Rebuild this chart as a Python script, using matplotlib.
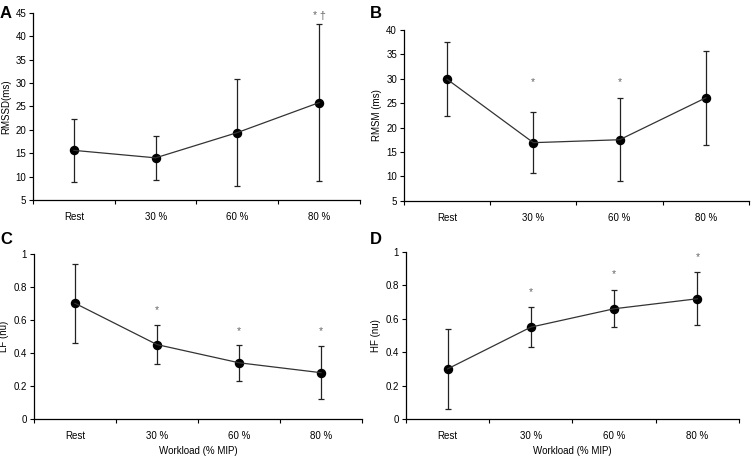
import matplotlib
matplotlib.use("Agg")
import matplotlib.pyplot as plt
import numpy as np

plt.rcParams['font.family'] = ['Liberation Sans', 'DejaVu Sans']

# categories
workload = ["Rest", "30 %", "60 %", "80 %"]

# panel A - RMSSD
rmssd_mean = [15.6, 14.0, 19.4, 25.8]
rmssd_sd = [6.7, 4.7, 11.5, 16.7]
# panel B - RMSM
rmsm_mean = [29.9, 16.9, 17.5, 26.1]
rmsm_sd = [7.6, 6.3, 8.5, 9.6]
# panel C - LF
lf_mean = [0.70, 0.45, 0.34, 0.28]
lf_sd = [0.24, 0.12, 0.11, 0.16]
# panel D - HF
hf_mean = [0.30, 0.55, 0.66, 0.72]
hf_sd = [0.24, 0.12, 0.11, 0.16]

# significance marks (category index, y, text)
marks_a = [(3, 44.3, "* \u2020")]
marks_b = [(1, 29.3, "*"), (2, 29.3, "*")]
marks_c = [(1, 0.66, "*"), (2, 0.53, "*"), (3, 0.53, "*")]
marks_d = [(1, 0.76, "*"), (2, 0.87, "*"), (3, 0.97, "*")]

fig = plt.figure(figsize=(7.52, 4.57), dpi=100)

panels = [
    ([0.0439, 0.5624, 0.4348, 0.4098], rmssd_mean, rmssd_sd, (5, 45), np.arange(5, 46, 5), "RMSSD(ms)", marks_a, "A", (0.0, 0.955), None),
    ([0.5372, 0.5608, 0.4588, 0.3736], rmsm_mean, rmsm_sd, (5, 40), np.arange(5, 41, 5), "RMSM (ms)", marks_b, "B", (0.492, 0.955), None),
    ([0.0452, 0.0832, 0.4362, 0.3617], lf_mean, lf_sd, (0, 1), np.arange(0, 1.01, 0.2), "LF (nu)", marks_c, "C", (0.0, 0.46), "Workload (% MIP)"),
    ([0.5399, 0.0832, 0.4428, 0.3654], hf_mean, hf_sd, (0, 1), np.arange(0, 1.01, 0.2), "HF (nu)", marks_d, "D", (0.492, 0.46), "Workload (% MIP)"),
]

x = np.arange(len(workload)) + 0.5

for rect, mean, sd, ylim, yticks, ylabel, marks, letter, lpos, xlabel in panels:
    ax = fig.add_axes(rect)
    ax.errorbar(x, mean, yerr=sd, fmt='-', color='#333333', lw=0.9,
                ecolor='#222222', elinewidth=0.9, capsize=2.5, capthick=0.9)
    ax.plot(x, mean, 'o', color='black', ms=5.8)
    ax.set_xlim(0, 4)
    ax.set_ylim(*ylim)
    ax.set_yticks(yticks)
    if ylim[1] == 1:
        ax.set_yticklabels(["0", "0.2", "0.4", "0.6", "0.8", "1"])
    ax.set_xticks([0, 1, 2, 3, 4])
    ax.set_xticklabels([])
    ax.set_xticks(x, minor=True)
    ax.set_xticklabels(workload, minor=True)
    ax.tick_params(axis='x', which='minor', length=0, pad=9, labelsize=7)
    ax.tick_params(axis='x', which='major', length=3, width=0.8)
    ax.tick_params(axis='y', length=3, width=0.8, labelsize=7, pad=2)
    for s in ['top', 'right']:
        ax.spines[s].set_visible(False)
    for s in ['left', 'bottom']:
        ax.spines[s].set_linewidth(0.9)
    ax.set_ylabel(ylabel, fontsize=7, labelpad=3)
    if xlabel:
        ax.set_xlabel(xlabel, fontsize=7, labelpad=3)
    for i, yv, txt in marks:
        ax.text(x[i], yv, txt, ha='center', va='center', fontsize=7.5, color='#666666')
    fig.text(lpos[0], lpos[1], letter, fontsize=12, fontweight='bold', ha='left', va='bottom')

fig.savefig("out.png", dpi=100)
